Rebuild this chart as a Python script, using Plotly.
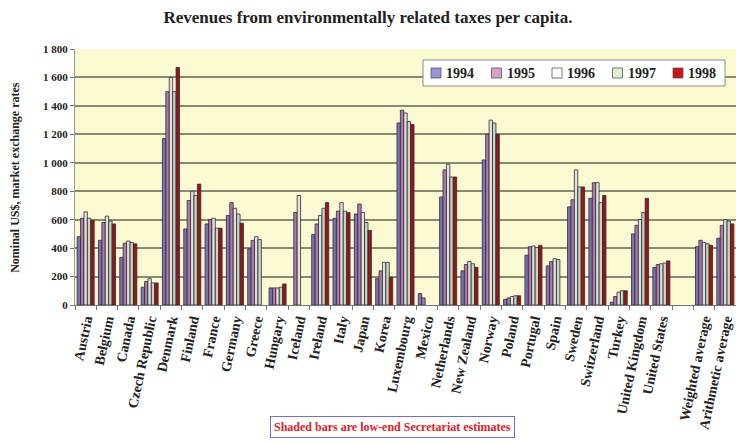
import plotly.graph_objects as go

categories = ["Austria", "Belgium", "Canada", "Czech Republic", "Denmark", "Finland", "France",
              "Germany", "Greece", "Hungary", "Iceland", "Ireland", "Italy", "Japan", "Korea",
              "Luxembourg", "Mexico", "Netherlands", "New Zealand", "Norway", "Poland", "Portugal",
              "Spain", "Sweden", "Switzerland", "Turkey", "United Kingdom", "United States", " ",
              "Weighted average", "Arithmetic average"]

years = ["1994", "1995", "1996", "1997", "1998"]

v1994 = [480, 455, 335, 125, 1170, 535, 570, 630, 395, 120, None, 495, 610, 640, 185,
         1280, 80, 760, 240, 1020, 40, 350, 275, 690, 750, 20, 500, 265, None, 410, 470]
v1995 = [610, 580, 435, 165, 1500, 735, 600, 720, 455, 120, 650, 570, 660, 710, 240,
         1370, 50, 950, 285, 1200, 50, 410, 305, 740, 860, 60, 560, 285, None, 455, 560]
v1996 = [655, 625, 450, 185, 1600, 800, 610, 680, 480, 120, 770, 630, 720, 650, 300,
         1350, None, 990, 305, 1300, 60, 415, 325, 950, 860, 90, 600, 290, None, 440, 600]
v1997 = [610, 590, 440, 155, 1500, 770, 540, 640, 460, 125, None, 680, 660, 580, 300,
         1290, None, 900, 290, 1280, 65, 405, 320, 830, 720, 100, 650, 295, None, 430, 590]
v1998 = [595, 570, 430, 155, 1670, 850, 540, 575, None, 148, None, 720, 650, 525, 195,
         1270, None, 900, 265, 1200, 65, 420, None, 830, 770, 100, 750, 310, None, 420, 570]

series = [v1994, v1995, v1996, v1997, v1998]
fills = ["#7F72B0", "#A97CA8", "#E4E0DC", "#C4D8BA", "#9A1418"]
legend_fills = ["#9A94D6", "#D6A0C8", "#FFFFFF", "#DCF0D4", "#C81418"]

ytickvals = [0, 200, 400, 600, 800, 1000, 1200, 1400, 1600, 1800]
yticktext = ["0", "200", "400", "600", "800", "1 000", "1 200", "1 400", "1 600", "1 800"]

serif = "Liberation Serif"

# plot area in pixels (for placing the hand-made legend)
L, R, T, B = 75, 736, 49, 305


def px_x(p):
    return (p - L) / (R - L)


def px_y(p):
    return (B - p) / (B - T)


fig = go.Figure()
for name, vals, col in zip(years, series, fills):
    fig.add_trace(go.Bar(
        x=categories, y=vals, name=name, showlegend=False,
        marker=dict(color=col, line=dict(color="#2e2838", width=0.8)),
    ))

fig.update_layout(
    width=736, height=442,
    margin=dict(l=L, r=736 - R, t=T, b=442 - B, autoexpand=False),
    paper_bgcolor="white",
    plot_bgcolor="#FCFAD2",
    barmode="group",
    bargap=0.2,
    bargroupgap=0,
    title=dict(text="<b>Revenues from environmentally related taxes per capita.</b>",
               x=0.5, xanchor="center", y=0.962, yanchor="middle",
               font=dict(family=serif, size=17, color="#222")),
    showlegend=False,
    font=dict(family=serif, color="#222"),
)

fig.update_yaxes(
    range=[0, 1800], tickvals=ytickvals,
    ticktext=["<b>" + t + "</b>" for t in yticktext],
    showgrid=True, gridcolor="#8a8a72", gridwidth=1.5,
    showline=True, linecolor="#9a9a9a", linewidth=1,
    ticks="outside", ticklen=4, tickcolor="#777",
    tickfont=dict(family=serif, size=11, color="#222"),
    zeroline=False, automargin=False,
)

fig.update_xaxes(
    range=[-0.5, len(categories) - 0.5],
    tickvals=categories,
    ticktext=["<b>" + c + "</b>" for c in categories],
    tickangle=-78, tickson="boundaries",
    ticks="outside", ticklen=4, tickcolor="#777",
    showline=True, linecolor="#777", linewidth=1,
    tickfont=dict(family=serif, size=14, color="#222"),
    automargin=False,
)

# legend box
fig.add_shape(type="rect", xref="paper", yref="paper",
              x0=px_x(423), x1=px_x(725), y0=px_y(86), y1=px_y(60),
              fillcolor="white", line=dict(color="#8a8a8a", width=1), layer="above")
for i, (name, col) in enumerate(zip(years, legend_fills)):
    sx = 431 + 60.5 * i
    fig.add_shape(type="rect", xref="paper", yref="paper",
                  x0=px_x(sx), x1=px_x(sx + 10), y0=px_y(78), y1=px_y(68),
                  fillcolor=col, line=dict(color="#555", width=0.8), layer="above")
    fig.add_annotation(text="<b>" + name + "</b>", xref="paper", yref="paper",
                       x=px_x(sx + 13), y=px_y(73), xanchor="left", yanchor="middle",
                       showarrow=False, font=dict(family=serif, size=14, color="#222"))

fig.add_annotation(
    text="<b>Nominal US$, market exchange rates</b>",
    xref="paper", yref="paper", x=-0.091, y=0.5, textangle=-90,
    showarrow=False, font=dict(family=serif, size=12, color="#222"),
    xanchor="center", yanchor="middle",
)

fig.add_annotation(
    text="<b>Shaded bars are low-end Secretariat estimates</b>",
    xref="paper", yref="paper", x=0.481, y=-0.477,
    showarrow=False, font=dict(family=serif, size=12, color="#E0202A"),
    xanchor="center", yanchor="middle",
    bordercolor="#7070D0", borderwidth=1, borderpad=3, bgcolor="white",
)

fig.write_html("out.html")
